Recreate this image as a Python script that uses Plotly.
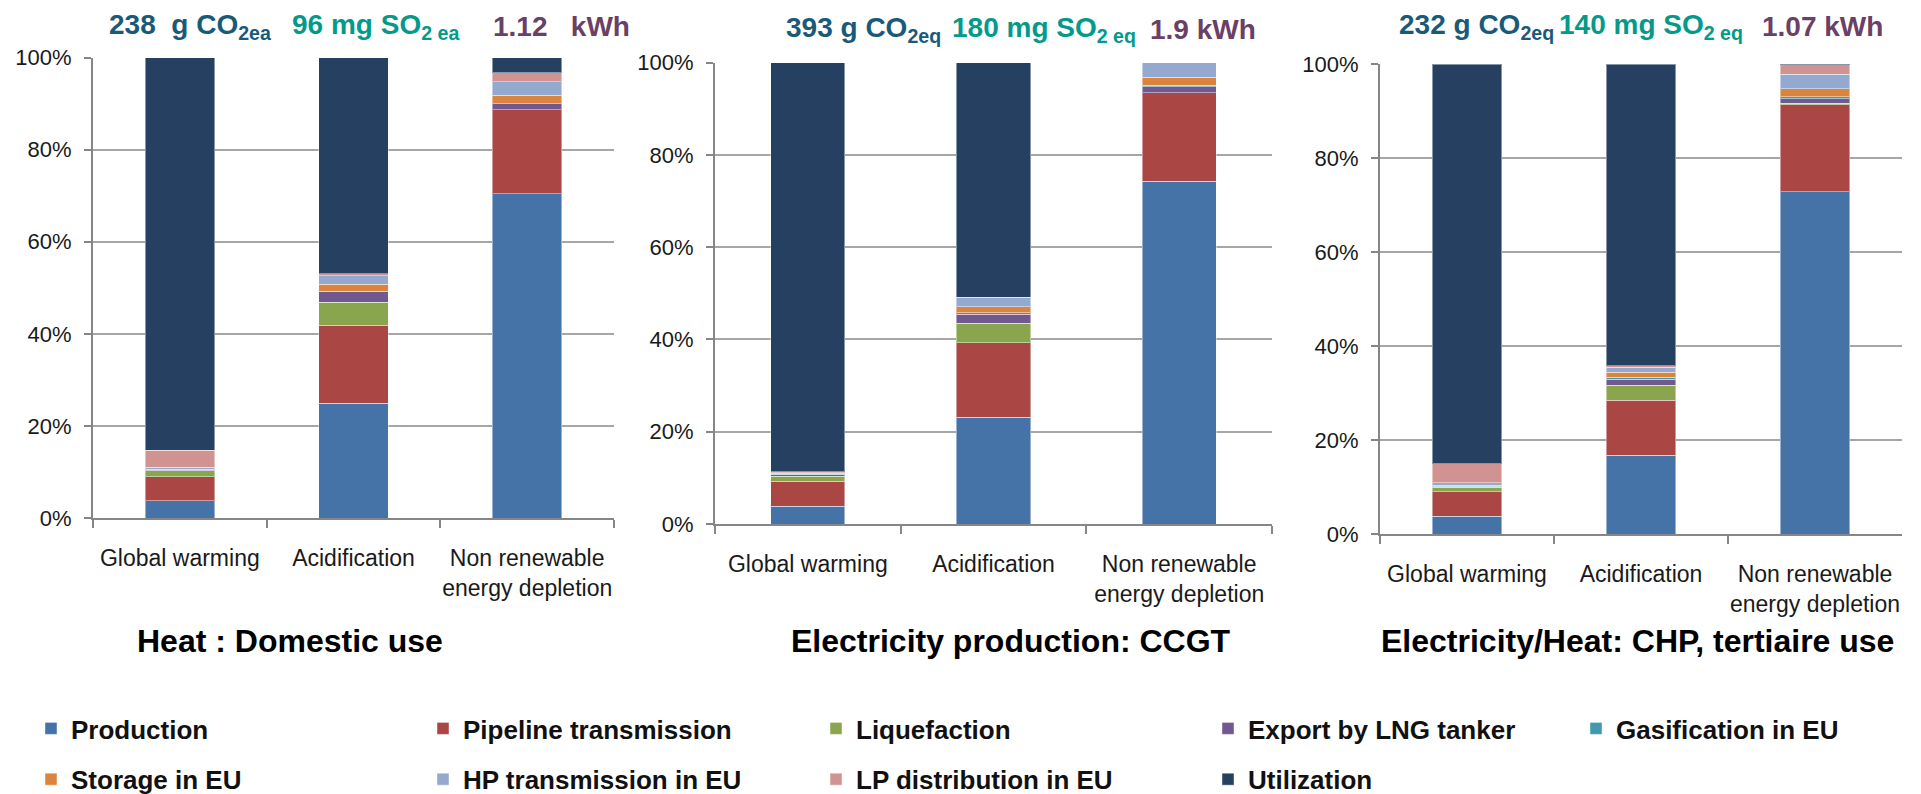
import plotly.graph_objects as go

# ---------------- data (percent contributions) ----------------
categories = ["Global warming", "Acidification", "Non renewable<br>energy depletion"]
panel_titles = ["Heat : Domestic use", "Electricity production: CCGT",
                "Electricity/Heat: CHP, tertiaire use"]

series_names = ["Production", "Pipeline transmission", "Liquefaction",
                "Export by LNG tanker", "Gasification in EU", "Storage in EU",
                "HP transmission in EU", "LP distribution in EU", "Utilization"]

# each list: [heat panel, CCGT panel, CHP panel], each with 3 categories
production = [[3.7, 24.9, 70.4], [3.9, 23.1, 74.3], [3.8, 16.8, 72.8]]
pipeline = [[5.3, 17.0, 18.3], [5.4, 16.2, 19.1], [5.2, 11.7, 18.5]]
liquefaction = [[1.3, 5.0, 0.0], [1.1, 4.2, 0.0], [0.9, 3.1, 0.3]]
export_lng = [[0.1, 2.2, 1.3], [0.3, 2.0, 1.4], [0.2, 1.3, 1.0]]
gasification = [[0.05, 0.1, 0.0], [0.1, 0.3, 0.3], [0.1, 0.4, 0.4]]
storage = [[0.15, 1.6, 1.8], [0.2, 1.3, 1.7], [0.2, 1.1, 1.7]]
hp_transmission = [[0.4, 1.8, 3.0], [0.1, 1.9, 3.2], [0.5, 1.1, 3.1]]
lp_distribution = [[3.7, 0.5, 1.9], [0.2, 0.1, 0.0], [4.0, 0.3, 2.0]]
utilization = [[85.3, 46.9, 3.3], [88.7, 50.9, 0.0], [85.1, 64.2, 0.2]]

y_tick_values = [0, 20, 40, 60, 80, 100]
y_tick_labels = ["0%", "20%", "40%", "60%", "80%", "100%"]

co2_values = ["238\u00a0 g CO", "393 g CO", "232 g CO"]
co2_subs = ["2ea", "2eq", "2eq"]
so2_values = ["96 mg SO", "180 mg SO", "140 mg SO"]
so2_subs = ["2 ea", "2 eq", "2 eq"]
kwh_values = ["1.12\u00a0\u00a0 kWh", "1.9 kWh", "1.07 kWh"]

series_values = [production, pipeline, liquefaction, export_lng, gasification,
                 storage, hp_transmission, lp_distribution, utilization]
colors = ["#4572A7", "#AA4643", "#89A54E", "#71588F", "#4198AF",
          "#DB843D", "#93A9CF", "#D19392", "#264061"]

W, H = 1921, 794
FONT = "Liberation Sans, Arial, sans-serif"

# panel geometry in pixels (x0, x1, ytop, ybottom)
panels_px = [(93, 614, 57.6, 518), (715, 1272, 62.5, 524), (1380, 1902, 64, 534)]

legend_ids = ["legend", "legend2", "legend3", "legend4", "legend5"]

fig = go.Figure()
for p in range(3):
    sfx = "" if p == 0 else str(p + 1)
    for s, name in enumerate(series_names):
        fig.add_trace(go.Bar(
            x=categories, y=series_values[s][p], name=name,
            marker=dict(color=colors[s], line=dict(color="rgba(255,255,255,0.45)", width=1)),
            xaxis="x" + sfx, yaxis="y" + sfx,
            legendgroup=name, showlegend=(p == 0),
            legend=legend_ids[s % 5],
        ))

layout = dict(
    width=W, height=H, margin=dict(l=0, r=0, t=0, b=0, autoexpand=False),
    paper_bgcolor="white", plot_bgcolor="white",
    barmode="stack", bargap=0.6,
    font=dict(family=FONT, color="#1a1a1a"),
    showlegend=True,
)
for p, (x0, x1, yt, yb) in enumerate(panels_px):
    sfx = "" if p == 0 else str(p + 1)
    layout["xaxis" + sfx] = dict(
        domain=[x0 / W, x1 / W], anchor="y" + sfx, type="category",
        showline=True, linecolor="#868686", linewidth=2,
        ticks="outside", tickson="boundaries", ticklen=8, tickcolor="#868686", tickwidth=1.5,
        tickfont=dict(size=23, family=FONT, color="#1a1a1a"), ticklabelstandoff=18,
        tickangle=0, showgrid=False, fixedrange=True, automargin=False,
    )
    layout["yaxis" + sfx] = dict(
        domain=[1 - yb / H, 1 - yt / H], anchor="x" + sfx,
        range=[0, 100], tickmode="array", tickvals=y_tick_values, ticktext=y_tick_labels,
        showgrid=True, gridcolor="#A6A6A6", gridwidth=1.5,
        showline=True, linecolor="#868686", linewidth=2,
        ticks="outside", ticklen=7, tickcolor="#868686", tickwidth=1.5,
        tickfont=dict(size=22, family=FONT, color="#1a1a1a"), ticklabelstandoff=8,
        zeroline=False, fixedrange=True, automargin=False,
    )

legend_left_px = [31, 423, 816, 1208, 1576]
for i, lid in enumerate(legend_ids):
    layout[lid] = dict(
        orientation="v", x=legend_left_px[i] / W, xanchor="left",
        y=1 - 705 / H, yanchor="top", tracegroupgap=14,
        font=dict(family=FONT, size=26, weight="bold", color="#111111"),
        bgcolor="rgba(0,0,0,0)", itemclick=False, itemdoubleclick=False,
    )
fig.update_layout(**layout)

# headers above panels
header_x = [(107, 290, 491), (784, 950, 1148), (1397, 1557, 1760)]
header_y = [26, 29, 27]
for p in range(3):
    cx, sx, kx = header_x[p]
    yy = 1 - header_y[p] / H
    fig.add_annotation(x=cx / W, y=yy, xref="paper", yref="paper", xanchor="left", yanchor="middle",
                       text=f"<b>{co2_values[p]}<sub>{co2_subs[p]}</sub></b>", showarrow=False,
                       font=dict(family=FONT, size=28, color="#1A5A78"))
    fig.add_annotation(x=sx / W, y=yy, xref="paper", yref="paper", xanchor="left", yanchor="middle",
                       text=f"<b>{so2_values[p]}<sub>{so2_subs[p]}</sub></b>", showarrow=False,
                       font=dict(family=FONT, size=28, color="#049A8B"))
    fig.add_annotation(x=kx / W, y=yy, xref="paper", yref="paper", xanchor="left", yanchor="middle",
                       text=f"<b>{kwh_values[p]}</b>", showarrow=False,
                       font=dict(family=FONT, size=28, color="#6B4066"))

# titles under panels
title_cx = [290, 1011, 1637]
for p in range(3):
    fig.add_annotation(x=title_cx[p] / W, y=1 - 641 / H, xref="paper", yref="paper",
                       xanchor="center", yanchor="middle", showarrow=False,
                       text=f"<b>{panel_titles[p]}</b>",
                       font=dict(family=FONT, size=32, color="#000000"))

fig.write_html("out.html", config={"displayModeBar": False},
               post_script="document.body.style.margin='0px';")
